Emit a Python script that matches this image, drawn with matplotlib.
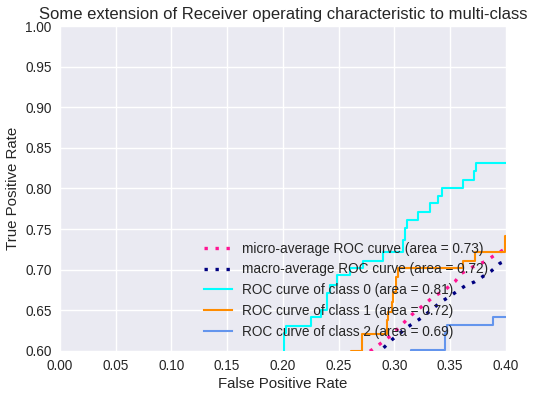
import matplotlib
matplotlib.use('Agg')
from matplotlib import pyplot as plt

# ROC curve corners (fpr, tpr)
fpr_class0 = [0.2009, 0.2009, 0.2027, 0.2027, 0.2249, 0.2249, 0.2347, 0.2347, 0.2398, 0.2398,
              0.2422, 0.2422, 0.2482, 0.2482, 0.2601, 0.2601, 0.2721, 0.2721, 0.2900, 0.2900,
              0.3080, 0.3080, 0.3095, 0.3095, 0.3111, 0.3111, 0.3215, 0.3215, 0.3320, 0.3320,
              0.3389, 0.3389, 0.3425, 0.3425, 0.3613, 0.3613, 0.3718, 0.3718, 0.3733, 0.3733, 0.42]
tpr_class0 = [0.55, 0.622, 0.622, 0.6308, 0.6308, 0.6415, 0.6415, 0.6505, 0.6505, 0.671,
              0.671, 0.6812, 0.6812, 0.6935, 0.6935, 0.7018, 0.7018, 0.7108, 0.7108, 0.7222,
              0.7222, 0.737, 0.737, 0.751, 0.751, 0.7612, 0.7612, 0.7714, 0.7714, 0.7817,
              0.7817, 0.7911, 0.7911, 0.801, 0.801, 0.8105, 0.8105, 0.8219, 0.8219, 0.8317, 0.8317]

fpr_class1 = [0.2608, 0.2608, 0.2707, 0.2707, 0.2931, 0.2931, 0.2946, 0.2946, 0.2976, 0.2976,
              0.2990, 0.2990, 0.3020, 0.3020, 0.3035, 0.3035, 0.3619, 0.3619, 0.3724, 0.3724,
              0.3990, 0.3990, 0.42]
tpr_class1 = [0.55, 0.6005, 0.6005, 0.6206, 0.6206, 0.638, 0.638, 0.6484, 0.6484, 0.6607,
              0.6607, 0.673, 0.673, 0.6905, 0.6905, 0.7018, 0.7018, 0.7111, 0.7111, 0.7213,
              0.7213, 0.741, 0.741]

fpr_class2 = [0.3147, 0.3147, 0.3455, 0.3455, 0.3475, 0.3475, 0.3889, 0.3889, 0.42]
tpr_class2 = [0.55, 0.6015, 0.6015, 0.622, 0.622, 0.6315, 0.6315, 0.6415, 0.6415]

fpr_micro = [0.270, 0.284, 0.2976, 0.3155, 0.3335, 0.347, 0.3544, 0.3604, 0.3709, 0.3814,
             0.3904, 0.3978, 0.405]
tpr_micro = [0.592, 0.6053, 0.6197, 0.6443, 0.6648, 0.677, 0.6853, 0.6956, 0.7038, 0.71,
             0.7182, 0.7243, 0.730]

fpr_macro = [0.283, 0.290, 0.2976, 0.305, 0.3125, 0.326, 0.341, 0.3484, 0.3634, 0.3724,
             0.3874, 0.3948, 0.405]
tpr_macro = [0.595, 0.6033, 0.6135, 0.6218, 0.630, 0.6422, 0.6595, 0.666, 0.680, 0.6853,
             0.6988, 0.7079, 0.714]

roc_auc = {'micro': 0.73, 'macro': 0.72, 0: 0.81, 1: 0.72, 2: 0.69}
class_colors = ['aqua', 'darkorange', 'cornflowerblue']

x_ticks = [0.0, 0.05, 0.1, 0.15, 0.2, 0.25, 0.3, 0.35, 0.4]
y_ticks = [0.6, 0.65, 0.7, 0.75, 0.8, 0.85, 0.9, 0.95, 1.0]

plt.rcParams['font.family'] = ['Liberation Sans', 'DejaVu Sans']
plt.rcParams['text.color'] = '.15'
plt.rcParams['axes.labelcolor'] = '.15'
plt.rcParams['xtick.color'] = '.15'
plt.rcParams['ytick.color'] = '.15'

fig = plt.figure(figsize=(5.35, 3.97), dpi=100)
ax = fig.add_subplot()
fig.subplots_adjust(left=0.1121, right=0.9452, top=0.9345, bottom=0.1159)

ax.set_facecolor('#EAEAF2')
for spine in ax.spines.values():
    spine.set_visible(False)
ax.grid(True, color='white', linewidth=1.0)
ax.set_axisbelow(True)
ax.tick_params(length=0, labelsize=9.8, pad=6)

ax.plot(fpr_micro, tpr_micro, color='deeppink', linestyle=(0, (1, 2.3)), linewidth=2.4,
        label='micro-average ROC curve (area = {0:0.2f})'.format(roc_auc['micro']))
ax.plot(fpr_macro, tpr_macro, color='navy', linestyle=(0, (1, 2.3)), linewidth=2.4,
        label='macro-average ROC curve (area = {0:0.2f})'.format(roc_auc['macro']))

curves = [(fpr_class0, tpr_class0), (fpr_class1, tpr_class1), (fpr_class2, tpr_class2)]
for i, (fpr, tpr) in enumerate(curves):
    ax.plot(fpr, tpr, color=class_colors[i], linewidth=1.5,
            label='ROC curve of class {0} (area = {1:0.2f})'.format(i, roc_auc[i]))

ax.set_xlim(0.0, 0.4)
ax.set_ylim(0.6, 1.0)
ax.set_xticks(x_ticks)
ax.set_yticks(y_ticks)
ax.set_xticklabels(['{:.2f}'.format(t) for t in x_ticks])
ax.set_yticklabels(['{:.2f}'.format(t) for t in y_ticks])
ax.set_xlabel('False Positive Rate', fontsize=10.8, labelpad=3)
ax.set_ylabel('True Positive Rate', fontsize=10.8, labelpad=3.5)
ax.set_title('Some extension of Receiver operating characteristic to multi-class',
             fontsize=11.95, pad=5)
ax.legend(loc='lower right', bbox_to_anchor=(0.989, 0.0), frameon=False,
          fontsize=9.8, labelspacing=0.5)

fig.savefig('out.png', dpi=100)
